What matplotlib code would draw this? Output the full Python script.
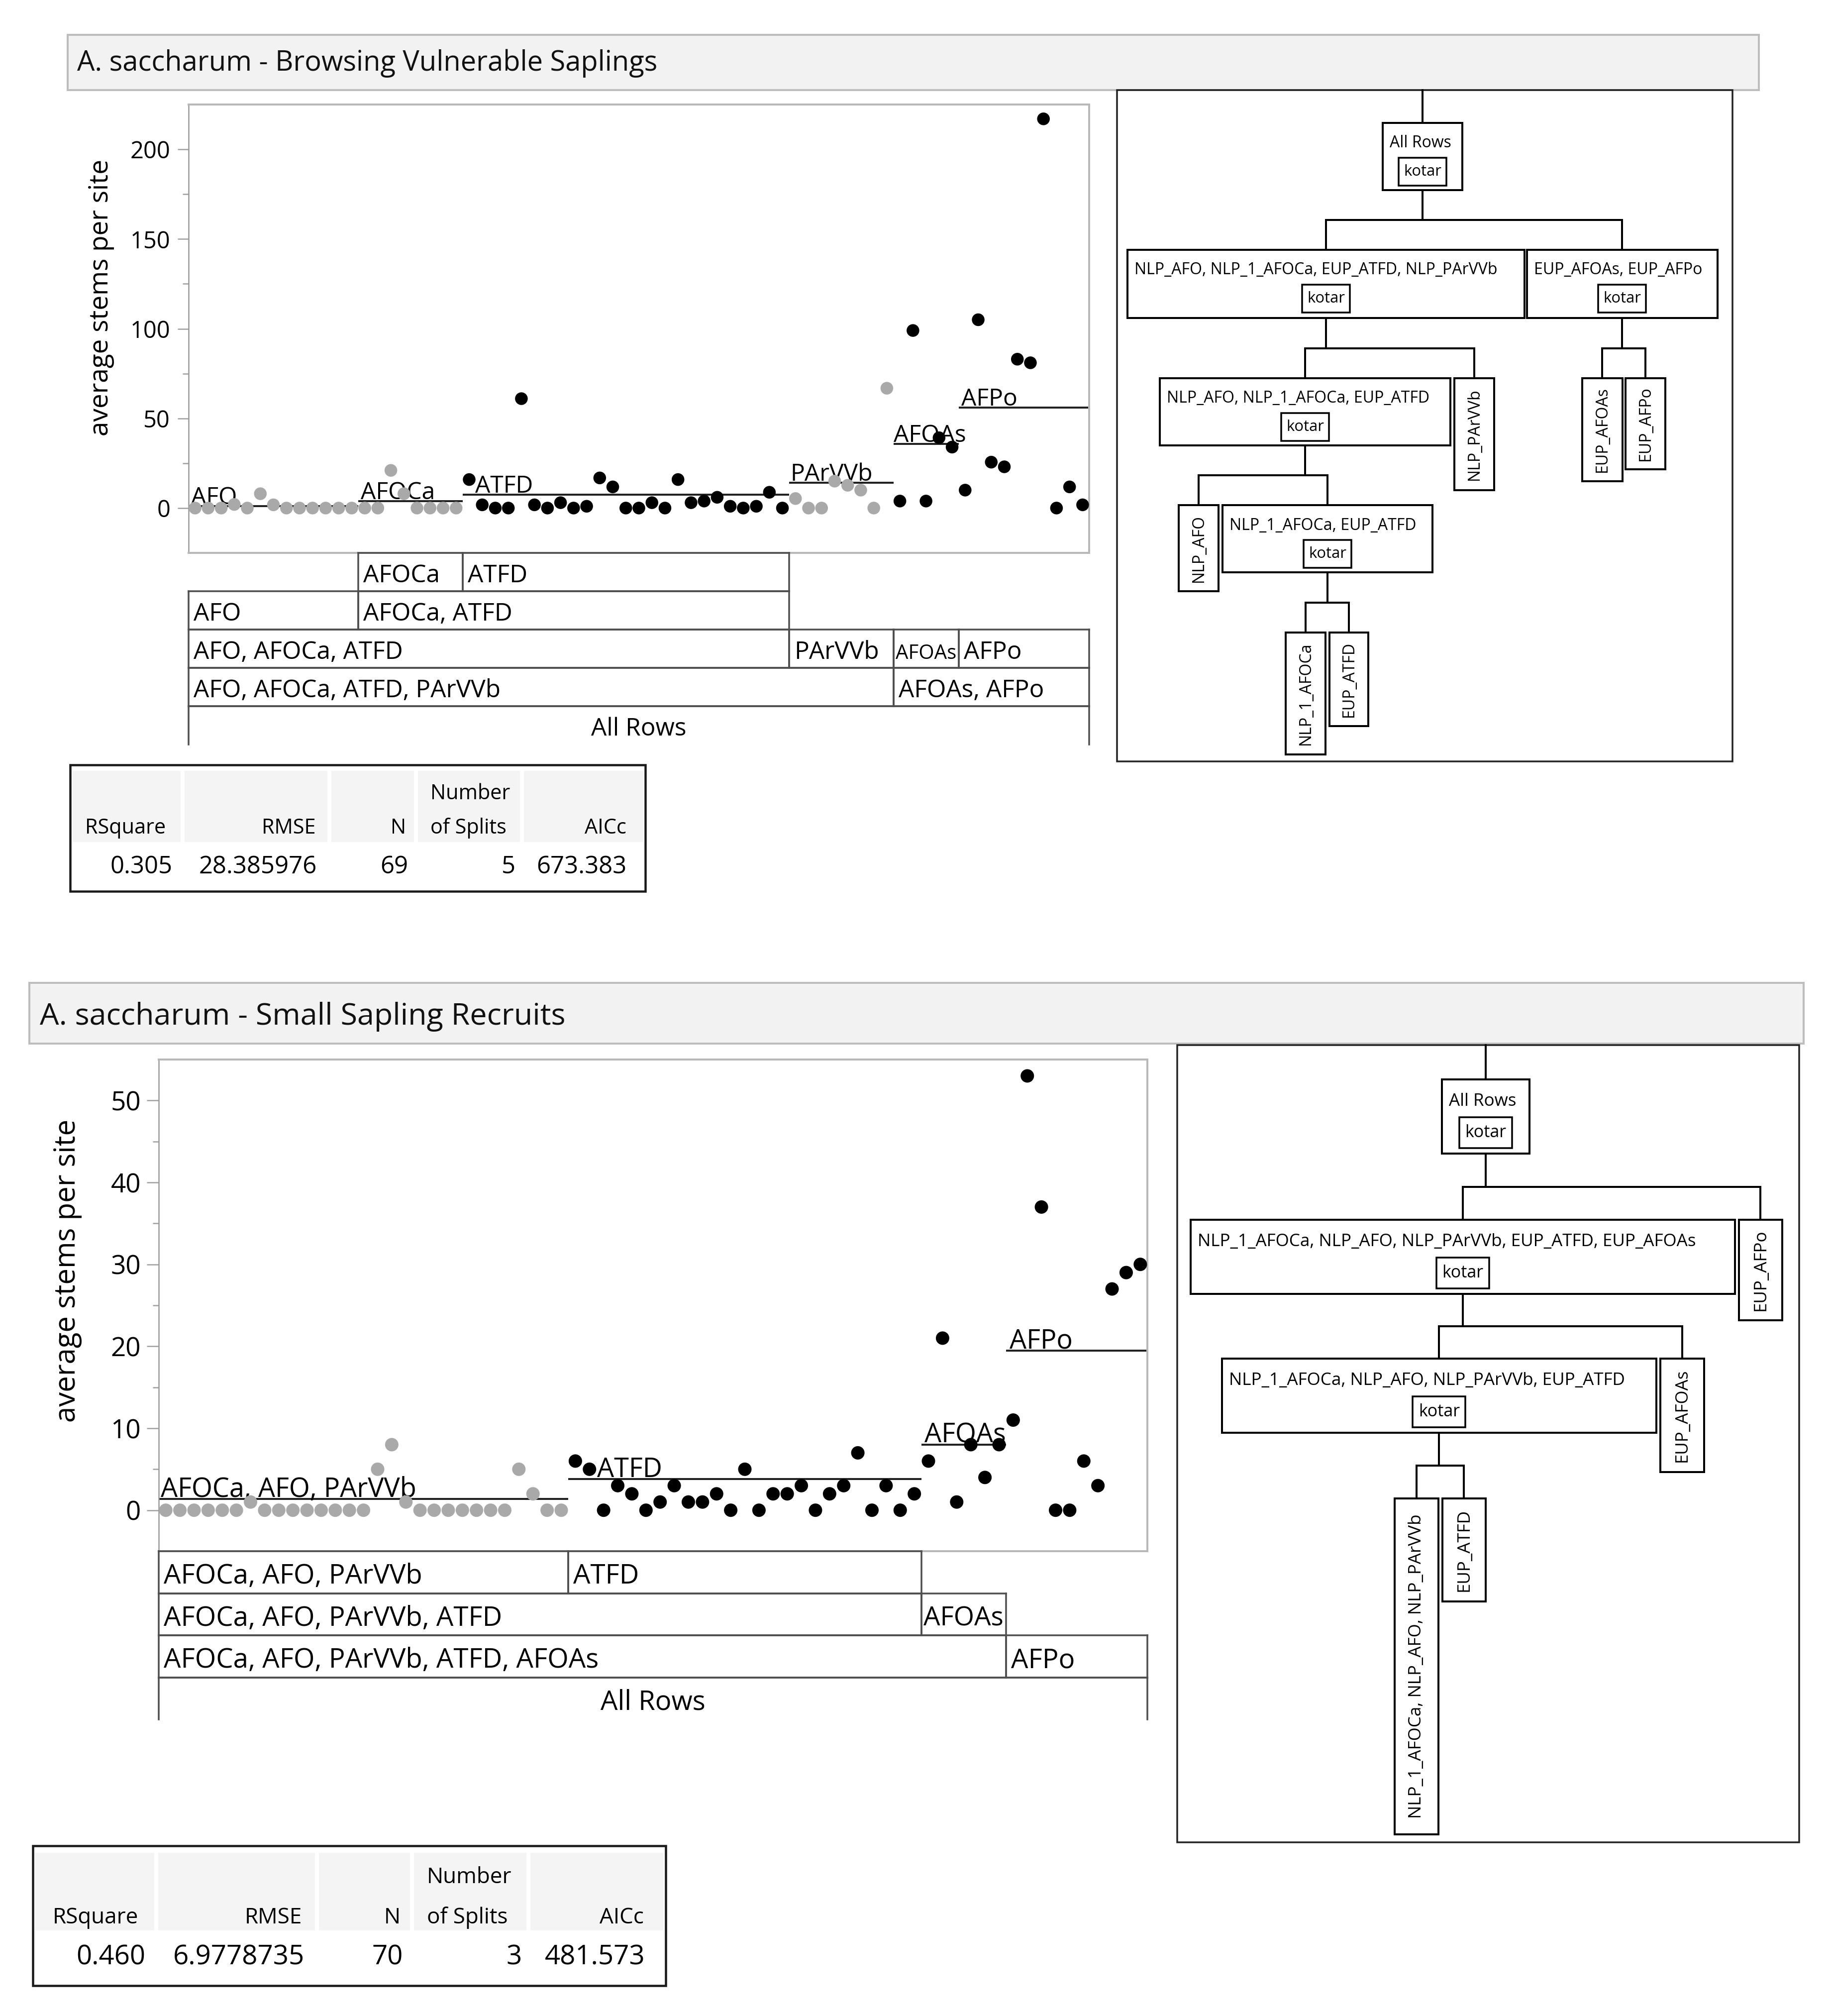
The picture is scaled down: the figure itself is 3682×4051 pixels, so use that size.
import numpy as np
import matplotlib
matplotlib.use("Agg")
import matplotlib.pyplot as plt
from matplotlib.patches import Rectangle
from matplotlib.ticker import NullLocator, FixedLocator
from matplotlib.transforms import offset_copy

W, H, DPI = 3682, 4051, 72
plt.rcParams['font.family'] = ['Open Sans', 'DejaVu Sans']

# ====================== Panel 1 data ======================
p1_title = "A. saccharum - Browsing Vulnerable Saplings"
p1_ylabel = "average stems per site"
p1_groups = ["AFO", "AFOCa", "ATFD", "PArVVb", "AFOAs", "AFPo"]
p1_region = ["NLP", "NLP", "EUP", "NLP", "EUP", "EUP"]
p1_means = [1.2, 3.9, 7.4, 14.0, 35.7, 56.0]
p1_AFO = [0, 0, 0, 2, 0, 8, 1.8, 0, 0, 0, 0, 0, 0]
p1_AFOCa = [0, 0, 21, 8, 0, 0, 0, 0]
p1_ATFD = [15.9, 1.8, 0, 0, 61, 1.8, 0, 3, 0, 1, 16.8, 11.8, 0, 0, 3, 0,
           15.9, 3, 3.9, 6, 1, 0, 1, 8.8, 0]
p1_PArVVb = [5.3, 0, 0, 15, 12.7, 10, 0, 66.8]
p1_AFOAs = [3.9, 99, 3.9, 39.2, 34]
p1_AFPo = [10, 105, 25.6, 23, 83, 81, 217, 0, 11.8, 1.8]
p1_values = [p1_AFO, p1_AFOCa, p1_ATFD, p1_PArVVb, p1_AFOAs, p1_AFPo]
p1_yticks = [0, 50, 100, 150, 200]
p1_yminor = [25, 75, 125, 175]
p1_split_rows = [
    [("AFOCa", 1, 1), ("ATFD", 2, 2)],
    [("AFO", 0, 0), ("AFOCa, ATFD", 1, 2)],
    [("AFO, AFOCa, ATFD", 0, 2), ("PArVVb", 3, 3), ("AFOAs", 4, 4), ("AFPo", 5, 5)],
    [("AFO, AFOCa, ATFD, PArVVb", 0, 3), ("AFOAs, AFPo", 4, 5)],
    [("All Rows", 0, 5)],
]
p1_stat_heads = ["RSquare", "RMSE", "N", "Number\nof Splits", "AICc"]
p1_stat_vals = ["0.305", "28.385976", "69", "5", "673.383"]
p1_tree = [
    ("root", "All Rows", None),
    ("n1", "NLP_AFO, NLP_1_AFOCa, EUP_ATFD, NLP_PArVVb", "root"),
    ("n2", "EUP_AFOAs, EUP_AFPo", "root"),
    ("n3", "NLP_AFO, NLP_1_AFOCa, EUP_ATFD", "n1"),
    ("n4", "NLP_PArVVb", "n1"),
    ("n5", "EUP_AFOAs", "n2"),
    ("n6", "EUP_AFPo", "n2"),
    ("n7", "NLP_AFO", "n3"),
    ("n8", "NLP_1_AFOCa, EUP_ATFD", "n3"),
    ("n9", "NLP_1_AFOCa", "n8"),
    ("n10", "EUP_ATFD", "n8"),
]

# ====================== Panel 2 data ======================
p2_title = "A. saccharum - Small Sapling Recruits"
p2_ylabel = "average stems per site"
p2_groups = ["AFOCa, AFO, PArVVb", "ATFD", "AFOAs", "AFPo"]
p2_region = ["NLP", "EUP", "EUP", "EUP"]
p2_means = [1.4, 3.8, 8.0, 19.5]
p2_NLP = [0, 0, 0, 0, 0, 0, 1, 0, 0, 0, 0, 0, 0, 0, 0, 5, 8, 1, 0, 0, 0, 0,
          0, 0, 0, 5, 2, 0, 0]
p2_ATFD = [6, 5, 0, 3, 2, 0, 1, 3, 1, 1, 2, 0, 5, 0, 2, 2, 3, 0, 2, 3, 7, 0,
           3, 0, 2]
p2_AFOAs = [6, 21, 1, 8, 4, 8]
p2_AFPo = [11, 53, 37, 0, 0, 6, 3, 27, 29, 30]
p2_values = [p2_NLP, p2_ATFD, p2_AFOAs, p2_AFPo]
p2_yticks = [0, 10, 20, 30, 40, 50]
p2_yminor = [5, 15, 25, 35, 45]
p2_split_rows = [
    [("AFOCa, AFO, PArVVb", 0, 0), ("ATFD", 1, 1)],
    [("AFOCa, AFO, PArVVb, ATFD", 0, 1), ("AFOAs", 2, 2)],
    [("AFOCa, AFO, PArVVb, ATFD, AFOAs", 0, 2), ("AFPo", 3, 3)],
    [("All Rows", 0, 3)],
]
p2_stat_heads = ["RSquare", "RMSE", "N", "Number\nof Splits", "AICc"]
p2_stat_vals = ["0.460", "6.9778735", "70", "3", "481.573"]
p2_tree = [
    ("root", "All Rows", None),
    ("n1", "NLP_1_AFOCa, NLP_AFO, NLP_PArVVb, EUP_ATFD, EUP_AFOAs", "root"),
    ("n2", "EUP_AFPo", "root"),
    ("n3", "NLP_1_AFOCa, NLP_AFO, NLP_PArVVb, EUP_ATFD", "n1"),
    ("n4", "EUP_AFOAs", "n1"),
    ("n5", "NLP_1_AFOCa, NLP_AFO, NLP_PArVVb", "n3"),
    ("n6", "EUP_ATFD", "n3"),
]

REGION_COLOR = {"NLP": "#a9a9a9", "EUP": "#000000"}

# ====================== layout (pixels) ======================
fig = plt.figure(figsize=(W / DPI, H / DPI), dpi=DPI)
fig.patch.set_facecolor("white")
renderer = fig.canvas.get_renderer()


def px_axes(x0, y0, x1, y1):
    return fig.add_axes([x0 / W, 1 - y1 / H, (x1 - x0) / W, (y1 - y0) / H])


bg = px_axes(0, 0, W, H)
bg.set_xlim(0, W)
bg.set_ylim(H, 0)
bg.axis("off")


def title_bar(box, text, tx, base, fs):
    x0, y0, x1, y1 = box
    bg.add_patch(Rectangle((x0, y0), x1 - x0, y1 - y0, fc="#f2f2f2",
                           ec="#bdbdbd", lw=4))
    bg.text(tx, base, text, ha="left", va="baseline", fontsize=fs, color="#111111")


def draw_scatter(rect, groups, values, region, means, ylabel, yticks, yminor,
                 ylim, st):
    ax = px_axes(*rect)
    counts = [len(v) for v in values]
    edges = np.concatenate([[0], np.cumsum(counts)])
    n = int(edges[-1])
    xs = np.arange(n) + 0.5
    ys = np.concatenate([np.asarray(v, float) for v in values])
    cols = [REGION_COLOR[r] for r, c in zip(region, counts) for _ in range(c)]
    ax.scatter(xs, ys, s=st["ms"] ** 2, c=cols, linewidths=0, zorder=3)
    for g, name in enumerate(groups):
        ax.plot([edges[g], edges[g + 1]], [means[g], means[g]], color="#222222",
                lw=4, solid_capstyle="butt", zorder=2)
        tr = offset_copy(ax.transData, fig=fig, x=st["label_dx"][g], y=4,
                         units="dots")
        ax.text(edges[g], means[g], name, transform=tr, ha="left",
                va="baseline", fontsize=st["fs_label"], zorder=2)
    ax.set_xlim(0, n)
    ax.set_ylim(*ylim)
    ax.xaxis.set_major_locator(NullLocator())
    ax.set_yticks(yticks)
    ax.yaxis.set_minor_locator(FixedLocator(yminor))
    ax.tick_params(axis="y", which="major", direction="out",
                   length=st["tick_len"], width=2.5, color="#a0a0a0",
                   pad=st["tick_pad"], labelsize=st["fs_tick"])
    ax.tick_params(axis="y", which="minor", direction="out", length=12,
                   width=2.5, color="#a0a0a0")
    for side in ["top", "right", "bottom"]:
        ax.spines[side].set_color("#b8b8b8")
        ax.spines[side].set_linewidth(4)
    ax.spines["left"].set_color("#9a9a9a")
    ax.spines["left"].set_linewidth(2.5)
    ax.set_ylabel(ylabel, fontsize=st["fs_ylabel"])
    ax.yaxis.set_label_coords(st["ylab_x"], st["ylab_y"])
    ax.yaxis.label.set_va("center")
    return edges


def draw_splits(rect, rows, edges, fs, pad):
    ax = px_axes(*rect)
    nrows = len(rows)
    n = edges[-1]
    px_per_unit = (rect[2] - rect[0]) / n
    ax.set_xlim(0, n)
    ax.set_ylim(nrows, 0)
    ax.axis("off")
    kw = dict(color="#4f4f4f", lw=3.5, clip_on=False, solid_capstyle="projecting")
    for r, row in enumerate(rows):
        last = r == nrows - 1
        for label, g0, g1 in row:
            x0, x1 = edges[g0], edges[g1 + 1]
            ax.plot([x0, x1], [r, r], **kw)
            ax.plot([x0, x0], [r, r + 1], **kw)
            ax.plot([x1, x1], [r, r + 1], **kw)
            if not last:
                ax.plot([x0, x1], [r + 1, r + 1], **kw)
                cell_px = (x1 - x0) * px_per_unit
                t = ax.text(x0, r + 0.77, label, ha="left", va="baseline",
                            fontsize=fs)
                w = t.get_window_extent(renderer).width
                if w > cell_px - 2 * pad:
                    avail = cell_px - 9
                    t.set_fontsize(fs * min(1.0, avail / w))
                    dx = 4
                else:
                    dx = pad
                t.set_transform(offset_copy(ax.transData, fig=fig, x=dx, y=0,
                                            units="dots"))
            else:
                ax.text((x0 + x1) / 2, r + 0.77, label, ha="center",
                        va="baseline", fontsize=fs)


def draw_stats(heads, vals, st):
    x0, y0, x1, y1 = st["box"]
    ce = st["cols"]
    for i in range(len(heads)):
        bg.add_patch(Rectangle((ce[i] + 4, st["hy0"]), ce[i + 1] - ce[i] - 8,
                               st["hy1"] - st["hy0"], fc="#f4f4f4", ec="none"))
    bg.add_patch(Rectangle((x0, y0), x1 - x0, y1 - y0, fill=False,
                           ec="#1a1a1a", lw=4.5))
    for i, h in enumerate(heads):
        parts = h.split("\n")
        if len(parts) == 2:
            bg.text(st["split_x"], st["hb1"], parts[0], ha="left",
                    va="baseline", fontsize=st["fs_h"])
            bg.text(st["split_x"], st["hb2"], parts[1], ha="left",
                    va="baseline", fontsize=st["fs_h"])
        else:
            bg.text(st["hr"][i], st["hb2"], h, ha="right", va="baseline",
                    fontsize=st["fs_h"])
        bg.text(st["vr"][i], st["vb"], vals[i], ha="right", va="baseline",
                fontsize=st["fs_v"])


def draw_tree(nodes, boxes, st):
    ox0, oy0, ox1, oy1 = st["outer"]
    bg.add_patch(Rectangle((ox0, oy0), ox1 - ox0, oy1 - oy0, fill=False,
                           ec="#222222", lw=3.5))
    parents = {p for _, _, p in nodes if p is not None}
    lk = dict(color="black", lw=4, solid_capstyle="projecting")
    cx = {k: (b[0] + b[2]) / 2 for k, b in boxes.items()}
    root = nodes[0][0]
    bg.plot([cx[root], cx[root]], [oy0, boxes[root][1]], **lk)
    for key, label, parent in nodes:
        x0, y0, x1, y1 = boxes[key]
        bg.add_patch(Rectangle((x0, y0), x1 - x0, y1 - y0, fc="white",
                               ec="black", lw=4, zorder=3))
        if key in parents:
            bg.text(x0 + st["pad"], y0 + st["ldy"], label, ha="left",
                    va="center", fontsize=st["fs"], zorder=4)
            kx0 = cx[key] - st["kw"] / 2
            ky0 = y0 + st["kdy"]
            bg.add_patch(Rectangle((kx0, ky0), st["kw"], st["kh"], fc="white",
                                   ec="black", lw=3.5, zorder=4))
            bg.text(cx[key], ky0 + st["kh"] / 2, "kotar", ha="center",
                    va="center", fontsize=st["kfs"], zorder=5)
        else:
            bg.text(cx[key], (y0 + y1) / 2, label, ha="center", va="center",
                    rotation=90, fontsize=st["fs"], zorder=4)
    for p in parents:
        kids = [k for k, _, pp in nodes if pp == p]
        pb = boxes[p][3]
        ct = min(boxes[k][1] for k in kids)
        bar = (pb + ct) / 2
        bg.plot([cx[p], cx[p]], [pb, bar], **lk)
        bg.plot([min(cx[k] for k in kids), max(cx[k] for k in kids)], [bar, bar], **lk)
        for k in kids:
            bg.plot([cx[k], cx[k]], [bar, boxes[k][1]], **lk)


# ---------------- Panel 1 ----------------
title_bar((136, 70, 3535, 181), p1_title, 155, 142, 56)
e1 = draw_scatter((379, 210, 2189, 1111), p1_groups, p1_values, p1_region,
                  p1_means, p1_ylabel, p1_yticks, p1_yminor, (-25, 225),
                  dict(ms=25.5, fs_label=48, fs_tick=47, tick_len=22,
                       tick_pad=15, fs_ylabel=53, ylab_x=-0.0972,
                       ylab_y=0.5695, label_dx=[5, 5, 25, 3, 0, 5]))
draw_splits((379, 1111, 2189, 1496), p1_split_rows, e1, 49.5, 10)
draw_stats(p1_stat_heads, p1_stat_vals,
           dict(box=(141, 1537, 1297, 1791),
                cols=[141, 367, 662, 836, 1049, 1297],
                hy0=1549, hy1=1692, split_x=865, hb1=1606, hb2=1675,
                hr=[333, 635, 816, None, 1259],
                vr=[347, 637, 820, 1036, 1259], vb=1755,
                fs_h=41.5, fs_v=49))
draw_tree(p1_tree,
          {"root": (2779, 247, 2939, 382), "n1": (2266, 502, 3064, 639),
           "n2": (3069, 502, 3452, 639), "n3": (2331, 760, 2915, 895),
           "n4": (2923, 760, 3003, 985), "n5": (3180, 760, 3261, 967),
           "n6": (3267, 760, 3347, 943), "n7": (2369, 1015, 2449, 1188),
           "n8": (2457, 1015, 2879, 1150), "n9": (2584, 1271, 2664, 1516),
           "n10": (2672, 1271, 2750, 1459)},
          dict(outer=(2245, 181, 3482, 1530), fs=32, kfs=31, kw=96, kh=56,
               kdy=70, ldy=41, pad=14))

# ---------------- Panel 2 ----------------
title_bar((59, 1975, 3625, 2097), p2_title, 80, 2059, 61)
e2 = draw_scatter((319, 2129, 2306, 3117), p2_groups, p2_values, p2_region,
                  p2_means, p2_ylabel, p2_yticks, p2_yminor, (-5, 55),
                  dict(ms=27, fs_label=54, fs_tick=53, tick_len=24,
                       tick_pad=12, fs_ylabel=58, ylab_x=-0.0923,
                       ylab_y=0.5704, label_dx=[4, 58, 6, 7]))
draw_splits((319, 3117, 2306, 3455), p2_split_rows, e2, 54.5, 10)
draw_stats(p2_stat_heads, p2_stat_vals,
           dict(box=(66, 3709, 1338, 3990),
                cols=[66, 314, 637, 828, 1062, 1338],
                hy0=3723, hy1=3879, split_x=858, hb1=3784, hb2=3865,
                hr=[278, 607, 805, None, 1294],
                vr=[292, 612, 810, 1049, 1297], vb=3948,
                fs_h=44, fs_v=54.5))
draw_tree(p2_tree,
          {"root": (2898, 2169, 3074, 2318), "n1": (2393, 2451, 3487, 2600),
           "n2": (3495, 2451, 3582, 2653), "n3": (2456, 2730, 3329, 2879),
           "n4": (3337, 2730, 3425, 2958), "n5": (2803, 3011, 2891, 3686),
           "n6": (2899, 3011, 2986, 3218)},
          dict(outer=(2366, 2100, 3616, 3702), fs=35, kfs=34, kw=106, kh=62,
               kdy=76, ldy=44, pad=14))

fig.savefig("out.png", dpi=DPI)
